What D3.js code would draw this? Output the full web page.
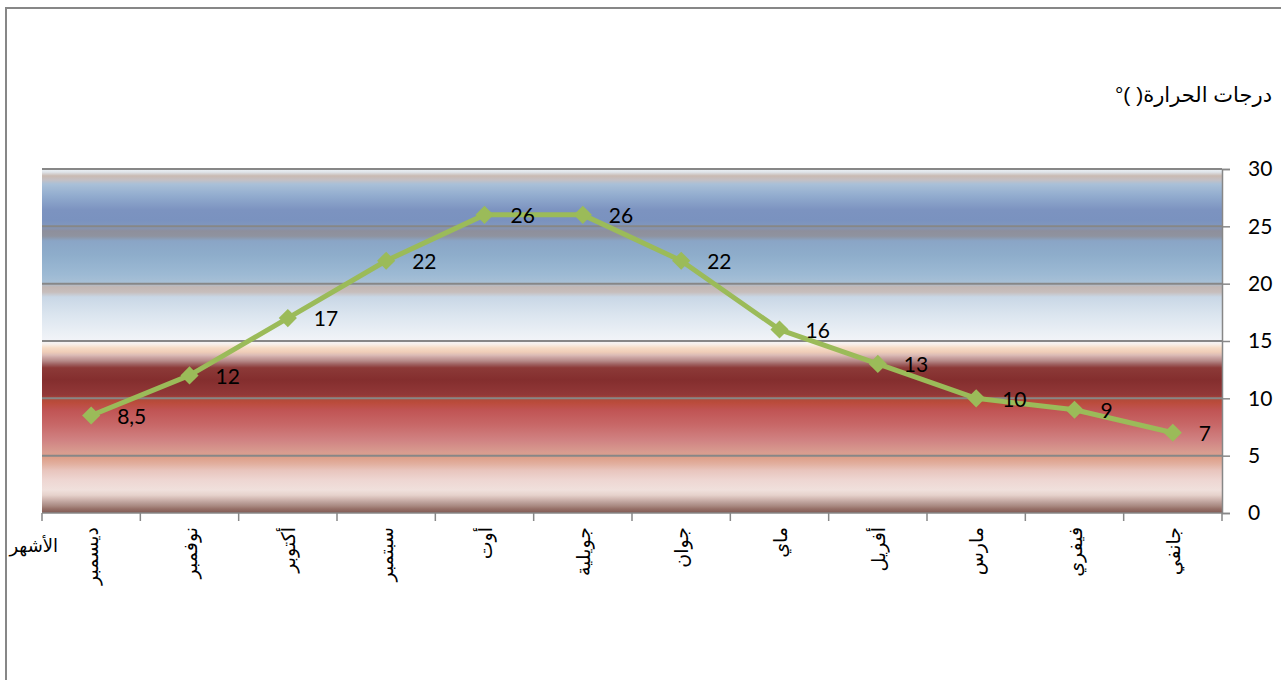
<!DOCTYPE html>
<html lang="ar">
<head>
<meta charset="utf-8">
<title>درجات الحرارة</title>
<script src="https://cdn.jsdelivr.net/npm/d3@7"></script>
<style>
  html, body { margin: 0; padding: 0; background: #ffffff; }
  svg { display: block; }
</style>
</head>
<body>
<svg id="chart" width="1281" height="680"></svg>
<script>
// Monthly mean temperatures (°C), January to December
const months = ["جانفي", "فيفري", "مارس", "أفريل", "ماي", "جوان", "جويلية", "أوت", "سبتمبر", "أكتوبر", "نوفمبر", "ديسمبر"];
const temperatures = [7, 9, 10, 13, 16, 22, 26, 26, 22, 17, 12, 8.5];
const yTicks = [0, 5, 10, 15, 20, 25, 30];
const yTitle = "درجات الحرارة( )°";
const xTitle = "الأشهر";

// Striped "sky over fire" fill of the plot area, top to bottom
const bandStops = [
  [0, "#eef2f6"], [0.009, "#dfe4ea"], [0.020, "#c9bab2"], [0.032, "#c4c0c4"],
  [0.044, "#a9c0d8"], [0.076, "#93adcf"], [0.119, "#7c93c0"], [0.148, "#7a92bf"],
  [0.166, "#8197bd"], [0.180, "#8e8f9c"], [0.195, "#8f939f"], [0.209, "#8aa5c6"],
  [0.250, "#8eadcb"], [0.308, "#9dbad4"], [0.331, "#a8c0d6"], [0.343, "#c2b7b4"],
  [0.358, "#c7bebc"], [0.372, "#c9d7e6"], [0.424, "#dbe5ef"], [0.483, "#edf1f6"],
  [0.500, "#f2f4f8"], [0.509, "#f8f0ea"], [0.520, "#f6dcc6"], [0.532, "#efcdb8"],
  [0.541, "#dcbcb6"], [0.549, "#c9a2a0"], [0.558, "#b68a88"], [0.567, "#a06464"],
  [0.578, "#8c3a38"], [0.613, "#842e2e"], [0.657, "#923838"], [0.669, "#b04a3a"],
  [0.680, "#bb4c3c"], [0.701, "#c05454"], [0.744, "#c86868"], [0.788, "#d08282"],
  [0.823, "#d89c90"], [0.840, "#dea08a"], [0.858, "#e2b0a0"], [0.875, "#e8c4bc"],
  [0.904, "#eed6d2"], [0.933, "#f0e0dc"], [0.948, "#e6d2cc"], [0.959, "#d2b8b2"],
  [0.971, "#b89c96"], [0.980, "#a88880"], [0.988, "#967068"], [1, "#805a54"]
];

const svg = d3.select("#chart");
const W = 1281, H = 680;
const plot = { left: 42, right: 1222, top: 169, bottom: 513 };
const lineColor = "#9bbb59";
const axisGray = "#878787";
const numFont = "Lato, 'Open Sans', sans-serif";
const arFont = "'DejaVu Sans', 'Noto Sans', Arial, sans-serif";

// Outer chart frame
svg.append("rect")
  .attr("x", 6).attr("y", 8)
  .attr("width", W).attr("height", H)
  .attr("fill", "#ffffff")
  .attr("stroke", axisGray).attr("stroke-width", 2);

// Scales: months run right-to-left
const x = d3.scaleBand()
  .domain(months)
  .range([plot.right, plot.left])
  .paddingInner(0).paddingOuter(0);

const y = d3.scaleLinear()
  .domain([0, 30])
  .range([plot.bottom, plot.top]);

// Background gradient
const defs = svg.append("defs");
const grad = defs.append("linearGradient")
  .attr("id", "bands")
  .attr("x1", 0).attr("y1", 0).attr("x2", 0).attr("y2", 1);
grad.selectAll("stop")
  .data(bandStops)
  .join("stop")
  .attr("offset", d => d[0])
  .attr("stop-color", d => d[1]);

svg.append("rect")
  .attr("x", plot.left).attr("y", y(30))
  .attr("width", plot.right - plot.left)
  .attr("height", y(0) - y(30))
  .attr("fill", "url(#bands)");

// Horizontal gridlines
svg.append("g")
  .selectAll("line")
  .data(yTicks.filter(t => t > 0))
  .join("line")
  .attr("x1", plot.left).attr("x2", plot.right)
  .attr("y1", d => y(d)).attr("y2", d => y(d))
  .attr("stroke", axisGray).attr("stroke-width", 2);

// Right-hand value axis
const yAxis = svg.append("g")
  .attr("transform", `translate(${plot.right},0)`)
  .call(d3.axisRight(y).tickValues(yTicks).tickSize(8).tickPadding(18).tickFormat(d3.format("d")));
yAxis.select(".domain").attr("stroke", axisGray).attr("stroke-width", 1.5);
yAxis.selectAll(".tick line").attr("stroke", axisGray).attr("stroke-width", 1.5);
yAxis.selectAll(".tick text")
  .attr("fill", "#000")
  .style("font-family", numFont)
  .style("font-size", "21px");

// Bottom category axis with ticks on band edges
const xAxisG = svg.append("g");
xAxisG.append("line")
  .attr("x1", plot.left).attr("x2", plot.right)
  .attr("y1", y(0)).attr("y2", y(0))
  .attr("stroke", axisGray).attr("stroke-width", 1.5);
const edges = months.map(m => x(m)).concat([x(months[0]) + x.bandwidth()]);
xAxisG.selectAll("line.tk")
  .data(edges)
  .join("line")
  .attr("class", "tk")
  .attr("x1", d => d).attr("x2", d => d)
  .attr("y1", y(0)).attr("y2", y(0) + 8)
  .attr("stroke", axisGray).attr("stroke-width", 1.5);

// Vertical month names
xAxisG.selectAll("text.month")
  .data(months)
  .join("text")
  .attr("class", "month")
  .attr("transform", m => `translate(${x(m) + x.bandwidth() / 2 + 7},${y(0) + 14}) rotate(-90)`)
  .attr("text-anchor", "end")
  .style("font-family", arFont)
  .style("font-size", "19px")
  .attr("fill", "#000")
  .text(m => m);

// Axis titles
svg.append("text")
  .attr("x", 58).attr("y", 552)
  .attr("text-anchor", "end")
  .style("font-family", arFont)
  .style("font-size", "18px")
  .attr("fill", "#000")
  .text(xTitle);

svg.append("text")
  .attr("x", 1272).attr("y", 102)
  .attr("direction", "rtl")
  .attr("text-anchor", "start")
  .style("font-family", "'Liberation Sans', 'DejaVu Sans', Arial, sans-serif")
  .style("font-size", "21px")
  .attr("fill", "#000")
  .text(yTitle);

// Temperature line
const pts = months.map((m, i) => ({ m, v: temperatures[i] }));
const line = d3.line()
  .x(d => x(d.m) + x.bandwidth() / 2)
  .y(d => y(d.v));

svg.append("path")
  .datum(pts)
  .attr("d", line)
  .attr("fill", "none")
  .attr("stroke", lineColor)
  .attr("stroke-width", 5)
  .attr("stroke-linejoin", "round");

// Diamond markers
svg.append("g")
  .selectAll("path")
  .data(pts)
  .join("path")
  .attr("transform", d => `translate(${x(d.m) + x.bandwidth() / 2},${y(d.v)})`)
  .attr("d", d3.symbol().type(d3.symbolDiamond2).size(210))
  .attr("fill", lineColor);

// Value labels, comma as decimal mark
const fmt = v => String(v).replace(".", ",");
svg.append("g")
  .selectAll("text")
  .data(pts)
  .join("text")
  .attr("x", d => x(d.m) + x.bandwidth() / 2 + 26)
  .attr("y", d => y(d.v) + 3)
  .attr("dominant-baseline", "middle")
  .style("font-family", numFont)
  .style("font-size", "21px")
  .attr("fill", "#000")
  .text(d => fmt(d.v));
</script>
</body>
</html>
